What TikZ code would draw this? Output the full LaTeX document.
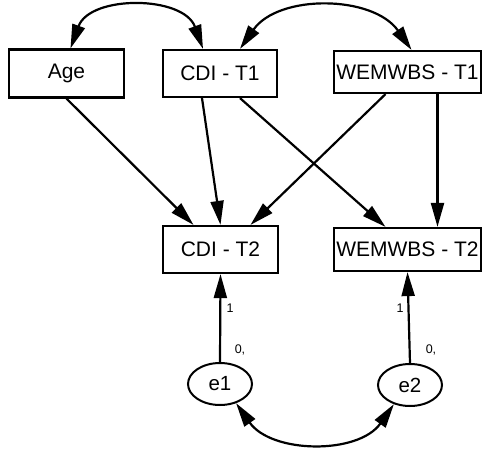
\documentclass[tikz,border=0pt]{standalone}
\usepackage{fontspec}
\setmainfont{Liberation Sans}
\usepackage{tikz}
\usetikzlibrary{arrows.meta}
\usetikzlibrary{shapes.geometric}

\begin{document}
\begin{tikzpicture}[x=1pt,y=-1pt,
	box/.style={draw,line width=2.2pt,inner sep=0pt,font=\fontsize{21}{24}\selectfont},
	err/.style={draw,ellipse,line width=2pt,inner sep=0pt,minimum width=64pt,minimum height=42pt,font=\fontsize{20.5}{24}\selectfont},
	path/.style={line width=2.2pt,-{Triangle[length=24pt,width=13pt]}},
	cov/.style={line width=2.2pt,{Triangle[length=24pt,width=13pt]}-{Triangle[length=24pt,width=13pt]}},
	num/.style={inner sep=0pt,font=\fontsize{12.5}{14}\selectfont}]
	 \useasboundingbox (0,0) rectangle (483,453);
	 \node[box,minimum width=115pt,minimum height=48pt] (age) at (66.5,73.5) {Age};
	 \node[box,minimum width=114pt,minimum height=47pt] (cdi1) at (220,73.5) {CDI - T1};
	 \node[box,minimum width=147pt,minimum height=42pt] (wem1) at (407.5,72) {WEMWBS - T1};
	 \node[box,minimum width=115pt,minimum height=47pt] (cdi2) at (220.5,249.5) {CDI - T2};
	 \node[box,minimum width=147pt,minimum height=43pt] (wem2) at (407.5,249.5) {WEMWBS - T2};
	 \node[err] (e1) at (220,384) {e1};
	 \node[err] (e2) at (410,385) {e2};
	 \node[num] (one1) at (230,308) {1};
	 \node[num] (zero1) at (240,350) {0,};
	 \node[num] (one2) at (400,308) {1};
	 \node[num] (zero2) at (431,350) {0,};
	 \draw[cov] ([xshift=4pt]age.north) to[out=70,in=110,looseness=1.1] ([xshift=-17pt]cdi1.north);
	 \draw[cov] ([xshift=20pt]cdi1.north) to[out=55,in=125] ([xshift=4pt]wem1.north);
	 \draw[path] (age.south) -- ([xshift=-27pt]cdi2.north);
	 \draw[path] ([xshift=-18pt]cdi1.south) -- (cdi2.north);
	 \draw[path] ([xshift=20pt]cdi1.south) -- ([xshift=-22pt]wem2.north);
	 \draw[path] ([xshift=-22pt]wem1.south) -- ([xshift=30pt]cdi2.north);
	 \draw[path] ([xshift=30pt]wem1.south) -- ([xshift=30pt]wem2.north);
	 \draw[path] (e1.north) -- (cdi2.south);
	 \draw[path] (e2.north) -- (wem2.south);
	 \draw[cov] (e1.-50) to[out=-55,in=-125] (e2.-130);
	 \end{tikzpicture}
\end{document}
